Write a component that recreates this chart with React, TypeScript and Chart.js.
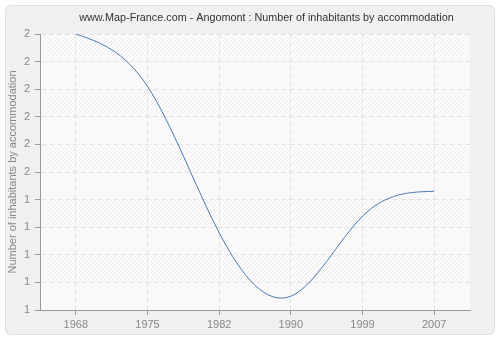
import React, { useEffect, useRef } from "react";
import { Chart, registerables } from "chart.js";

Chart.register(...registerables);

const years = ["1968", "1975", "1982", "1990", "1999", "2007"];
const inhabitantsPerAccommodation = [2.0, 1.81, 1.28, 1.05, 1.34, 1.43];
const yTickLabels = ["1", "1", "1", "1", "1", "2", "2", "2", "2", "2", "2"];
const titleText = "www.Map-France.com - Angomont : Number of inhabitants by accommodation";
const yTitle = "Number of inhabitants by accommodation";

const FONT = "'Liberation Sans', Arial, sans-serif";

function makeHatch(): CanvasPattern | string {
  const c = document.createElement("canvas");
  c.width = 4;
  c.height = 4;
  const g = c.getContext("2d");
  if (!g) return "#fafafa";
  g.fillStyle = "#fcfcfc";
  g.fillRect(0, 0, 4, 4);
  g.strokeStyle = "#ececec";
  g.lineWidth = 1;
  g.beginPath();
  g.moveTo(0, 4);
  g.lineTo(4, 0);
  g.moveTo(-1, 1);
  g.lineTo(1, -1);
  g.moveTo(3, 5);
  g.lineTo(5, 3);
  g.stroke();
  const p = g.createPattern(c, "repeat");
  return p || "#fafafa";
}

const backgroundPlugin = {
  id: "panelBg",
  beforeDraw(chart: any) {
    const { ctx, chartArea } = chart;
    ctx.save();
    ctx.fillStyle = "#ffffff";
    ctx.fillRect(0, 0, chart.width, chart.height);
    ctx.beginPath();
    const x = 5.5, y = 5.5, w = 489, h = 329, r = 6;
    ctx.moveTo(x + r, y);
    ctx.lineTo(x + w - r, y);
    ctx.quadraticCurveTo(x + w, y, x + w, y + r);
    ctx.lineTo(x + w, y + h - r);
    ctx.quadraticCurveTo(x + w, y + h, x + w - r, y + h);
    ctx.lineTo(x + r, y + h);
    ctx.quadraticCurveTo(x, y + h, x, y + h - r);
    ctx.lineTo(x, y + r);
    ctx.quadraticCurveTo(x, y, x + r, y);
    ctx.closePath();
    ctx.fillStyle = "#f0f0f0";
    ctx.fill();
    ctx.strokeStyle = "#e0e0e0";
    ctx.lineWidth = 1;
    ctx.stroke();
    const left = chartArea.left;
    const width = chartArea.right - chartArea.left;
    ctx.fillStyle = "#f9f9f9";
    ctx.fillRect(left, chartArea.top, width, chartArea.bottom - chartArea.top);
    const ys = chart.scales.y;
    const hatch = makeHatch();
    const ticks = ys.ticks;
    for (let i = ticks.length - 1; i > 0; i--) {
      const idxFromTop = ticks.length - 1 - i;
      if (idxFromTop % 2 !== 0) continue;
      const yTop = ys.getPixelForValue(ticks[i].value);
      const yBot = ys.getPixelForValue(ticks[i - 1].value);
      ctx.fillStyle = hatch;
      ctx.fillRect(left, yTop, width, yBot - yTop);
    }
    ctx.font = "12px " + FONT;
    const tw = ctx.measureText(titleText).width;
    const size = Math.min(13, (12 * 375) / tw);
    ctx.font = size.toFixed(2) + "px " + FONT;
    ctx.fillStyle = "#333333";
    ctx.textAlign = "center";
    ctx.textBaseline = "middle";
    ctx.fillText(titleText, 266.5, 18.5);
    ctx.restore();
  },
};

// Sets the line's Bezier control points so Chart.js draws a natural cubic spline
// through its own data points (no extra points are added).
const naturalSplinePlugin = {
  id: "naturalSpline",
  beforeDatasetsDraw(chart: any) {
    chart.data.datasets.forEach((_d: any, di: number) => {
      const meta = chart.getDatasetMeta(di);
      const pts = meta.data;
      const n = pts.length - 1;
      if (n < 2) return;
      const xs = pts.map((p: any) => p.x);
      const ys = pts.map((p: any) => p.y);
      const h: number[] = [];
      for (let i = 0; i < n; i++) h.push(xs[i + 1] - xs[i]);
      const M = new Array(n + 1).fill(0);
      const a: number[] = [], b: number[] = [], c: number[] = [], d: number[] = [];
      for (let i = 1; i < n; i++) {
        a.push(h[i - 1]);
        b.push(2 * (h[i - 1] + h[i]));
        c.push(h[i]);
        d.push(6 * ((ys[i + 1] - ys[i]) / h[i] - (ys[i] - ys[i - 1]) / h[i - 1]));
      }
      const m = b.length;
      for (let i = 1; i < m; i++) {
        const w = a[i] / b[i - 1];
        b[i] -= w * c[i - 1];
        d[i] -= w * d[i - 1];
      }
      const sol = new Array(m).fill(0);
      sol[m - 1] = d[m - 1] / b[m - 1];
      for (let i = m - 2; i >= 0; i--) sol[i] = (d[i] - c[i] * sol[i + 1]) / b[i];
      for (let i = 1; i < n; i++) M[i] = sol[i - 1];
      const slope: number[] = [];
      for (let i = 0; i < n; i++) slope.push((ys[i + 1] - ys[i]) / h[i] - (h[i] * (2 * M[i] + M[i + 1])) / 6);
      slope.push((ys[n] - ys[n - 1]) / h[n - 1] + (h[n - 1] * (M[n - 1] + 2 * M[n])) / 6);
      for (let i = 0; i <= n; i++) {
        const p = pts[i];
        const hl = i > 0 ? h[i - 1] : 0;
        const hr = i < n ? h[i] : 0;
        p.cp1x = xs[i] - hl / 3;
        p.cp1y = ys[i] - (slope[i] * hl) / 3;
        p.cp2x = xs[i] + hr / 3;
        p.cp2y = ys[i] + (slope[i] * hr) / 3;
      }
      meta.dataset._pointsUpdated = true;
      meta.dataset._path = undefined;
    });
  },
};

export default function App() {
  const ref = useRef<HTMLCanvasElement>(null);
  useEffect(() => {
    document.body.style.margin = "0";
    if (!ref.current) return;
    const chart = new Chart(ref.current, {
      type: "line",
      data: {
        labels: years,
        datasets: [
          {
            data: inhabitantsPerAccommodation,
            borderColor: "#4a79b0",
            borderWidth: 1,
            pointRadius: 0,
            tension: 0.4,
            fill: false,
          },
        ],
      },
      options: {
        animation: false,
        responsive: false,
        maintainAspectRatio: false,
        layout: { padding: { left: 0, top: 34, right: 30, bottom: 0 } },
        plugins: { legend: { display: false }, title: { display: false }, tooltip: { enabled: false } },
        scales: {
          x: {
            type: "category",
            offset: true,
            afterFit(scale: any) {
              scale.height = 30;
            },
            grid: {
              color: "#e2e2e2",
              tickColor: "#999999",
              tickBorderDash: [],
              tickLength: 5,
              offset: false,
            },
            border: { color: "#999999", width: 1, dash: [5, 3] },
            ticks: { color: "#888888", font: { family: FONT, size: 11 }, padding: 3, maxRotation: 0 },
          },
          y: {
            min: 1,
            max: 2,
            afterFit(scale: any) {
              scale.width = 40;
            },
            afterBuildTicks(scale: any) {
              const t = [];
              for (let i = 0; i <= 10; i++) t.push({ value: 1 + i / 10 });
              scale.ticks = t;
            },
            grid: {
              color: "#e2e2e2",
              tickColor: "#999999",
              tickBorderDash: [],
              tickLength: 5,
            },
            border: { color: "#999999", width: 1, dash: [5, 3] },
            ticks: {
              color: "#888888",
              font: { family: FONT, size: 11 },
              padding: 5,
              callback: (_v: any, i: number) => yTickLabels[i],
            },
            title: {
              display: true,
              text: yTitle,
              color: "#888888",
              font: { family: FONT, size: 11 },
              padding: { top: 6, bottom: 0 },
            },
          },
        },
      },
      plugins: [backgroundPlugin, naturalSplinePlugin],
    });
    return () => chart.destroy();
  }, []);
  return <canvas ref={ref} width={500} height={340} style={{ display: "block" }} />;
}
